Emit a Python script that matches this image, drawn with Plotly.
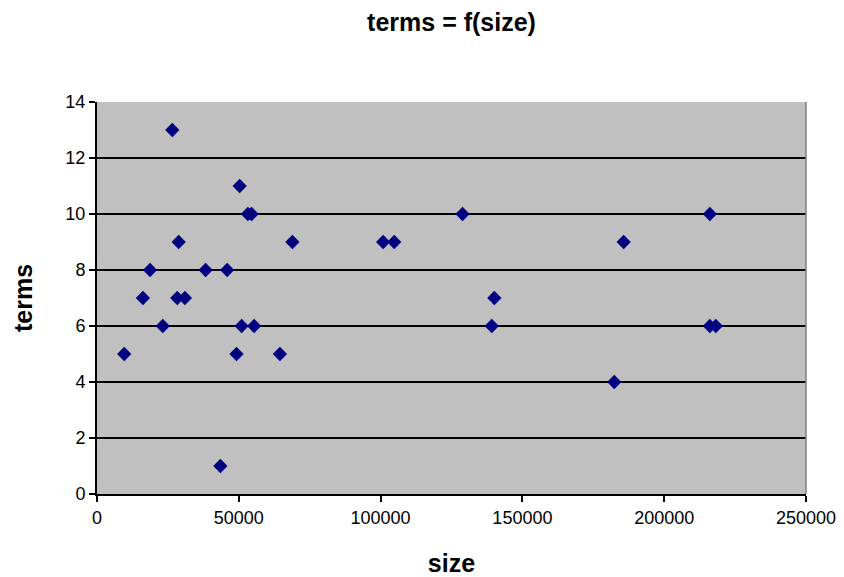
import plotly.graph_objects as go

size = [26550, 50300, 53200, 54500, 28800, 68900, 18700, 38300, 45900,
        16200, 28300, 31000, 23200, 51000, 55400, 9600, 49200, 64500, 43500,
        128900, 100900, 104800, 140100, 139200,
        216100, 185700, 216100, 218200, 182400]
terms = [13, 11, 10, 10, 9, 9, 8, 8, 8,
         7, 7, 7, 6, 6, 6, 5, 5, 5, 1,
         10, 9, 9, 7, 6,
         10, 9, 6, 6, 4]

x_ticks = [0, 50000, 100000, 150000, 200000, 250000]
y_ticks = [0, 2, 4, 6, 8, 10, 12, 14]

font_family = "Liberation Sans, Arial, sans-serif"

fig = go.Figure(go.Scatter(
    x=size, y=terms, mode="markers",
    marker=dict(symbol="diamond", size=11, color="#000080",
                line=dict(width=0)),
    showlegend=False,
))

fig.update_layout(
    width=844, height=577,
    margin=dict(l=97, r=38, t=102, b=83),
    paper_bgcolor="white",
    plot_bgcolor="#c0c0c0",
    font=dict(family=font_family, color="black", size=18),
    title=dict(text="<b>terms = f(size)</b>", x=0.5, xref="paper",
               y=1 - 22 / 577, yref="container", yanchor="middle",
               font=dict(size=25, family=font_family)),
    xaxis=dict(range=[0, 250000], tickvals=x_ticks,
               ticktext=[str(v) for v in x_ticks],
               showgrid=False, zeroline=False, automargin=False,
               showline=True, linecolor="black", linewidth=2,
               ticks="outside", ticklen=6, tickcolor="black", tickwidth=1.5,
               tickfont=dict(size=18),
               title=dict(text="<b>size</b>", font=dict(size=25), standoff=30)),
    yaxis=dict(range=[0, 14], tickvals=y_ticks,
               showgrid=True, gridcolor="black", gridwidth=1.5,
               zeroline=False, automargin=False,
               showline=True, linecolor="black", linewidth=2,
               ticks="outside", ticklen=6, tickcolor="black", tickwidth=1.5,
               tickfont=dict(size=18),
               title=dict(text="<b>terms</b>", font=dict(size=25), standoff=26)),
    shapes=[dict(type="line", xref="paper", yref="paper", x0=1, x1=1, y0=0, y1=1,
                 line=dict(color="#808080", width=1.5))],
)

fig.write_html("out.html")
